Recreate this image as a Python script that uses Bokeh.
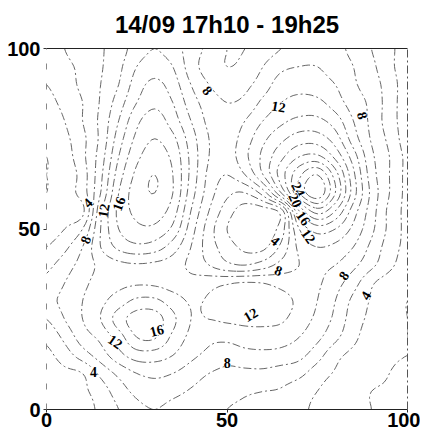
import numpy as np
from bokeh.plotting import figure
from bokeh.models import Range1d, FixedTicker, LinearAxis
from bokeh.core.properties import value
from bokeh.embed import file_html
from bokeh.resources import INLINE

# ---- data: gridded field (x = 0..100 step 5, rows listed from y=100 down to y=0)
grid_x = list(range(0, 101, 5))
grid_y_top_down = list(range(100, -1, -5))
z_rows = [
    [5, 6, 7, 7.8, 9, 11, 12, 11, 9, 7.5, 6, 6, 7, 8, 9, 9, 8.5, 7.5, 6, 4.5, 3],            # y=100
    [4.5, 5.5, 6.5, 7.8, 9.5, 12, 13, 12, 9, 7, 6, 6.5, 8, 9.5, 10, 10, 9, 8, 6.5, 4.5, 3],   # y=95
    [4, 5, 6.5, 8, 10, 13, 14.5, 13, 10, 8, 7, 7.5, 9, 11, 11.5, 11, 10, 8.3, 7, 5, 3],       # y=90
    [3.5, 4.5, 6, 8.2, 11, 14, 15.5, 14, 11, 9, 8, 8.5, 10.5, 12, 12.5, 12.5, 11, 9, 7.5, 5, 3],  # y=85
    [3, 4, 6, 8.5, 12, 15.5, 17, 15, 12, 9.5, 8.5, 10, 12, 13.5, 14.5, 14.5, 13, 10, 7.5, 5, 3],  # y=80
    [2.5, 3.5, 5.5, 8.5, 13, 16.5, 18, 16.5, 13, 10, 9, 11, 13.5, 15.5, 17, 17, 15, 11, 7.8, 5.5, 3],  # y=75
    [2, 3, 5.5, 9, 14, 17.5, 19, 17.5, 13.5, 10, 9, 11.5, 14.5, 17.5, 20, 20.5, 17.5, 13, 8.5, 6, 3.5],  # y=70
    [2, 2.5, 5, 9.5, 15, 18.5, 20, 18, 13.5, 9.5, 8, 10, 14, 19, 23.5, 26, 21, 14.5, 9, 6, 3.5],  # y=65
    [2, 3, 5, 10, 16, 19, 20, 18, 13, 9, 6.5, 6, 9, 16, 24, 27.5, 22, 15, 9.5, 6, 3.5],  # y=60
    [2.5, 3, 3.5, 11.5, 16.5, 18.5, 19, 17, 12, 8, 5, 3, 3, 5, 16, 21, 18, 13, 9, 5.5, 3.5],  # y=55
    [3, 4, 6, 12, 16, 17.5, 17.5, 15.5, 11, 7, 4, 2.5, 2.5, 5, 12, 15, 14, 11.5, 8.5, 5.5, 3.5],  # y=50
    [4, 5.5, 8, 12, 14.5, 15.5, 15, 13, 10, 7, 5, 3.5, 3.5, 6.5, 10.5, 12, 11.5, 10, 7.5, 5, 3.5],  # y=45
    [5.5, 7, 8.8, 10.5, 11.5, 11.8, 11.6, 11, 9.5, 8, 6.5, 6, 7, 8.7, 10, 10.5, 10, 8.5, 6.5, 4.5, 3],  # y=40
    [6.5, 8, 9.5, 10.8, 11.5, 11.8, 11.7, 11.2, 10.8, 11.3, 11.8, 12.2, 12, 11.3, 10.8, 10.3, 8.8, 6.8, 4.3, 3, 2.3],  # y=35
    [7.5, 8.5, 10, 11.5, 13, 14.5, 14.5, 13, 11.8, 12.2, 12.8, 13.3, 13.3, 12.8, 11.5, 10, 8, 5.5, 3.8, 2.5, 2],  # y=30
    [6, 8, 10, 12, 15, 17, 17, 14.5, 12, 12, 12.3, 12.5, 12.6, 12.3, 11, 9.5, 7.5, 5, 3.5, 2.5, 2],  # y=25
    [4.5, 6.5, 9, 10.5, 13, 16, 16.2, 13.5, 11.5, 10.5, 10.5, 11, 11, 10.8, 10, 8.5, 6.5, 4.5, 3, 2.5, 2],  # y=20
    [3.5, 5, 7, 9, 11.3, 13, 13, 12, 10.5, 9.5, 8.8, 9.3, 9.5, 9.3, 8.6, 6.8, 4.6, 3.5, 2.8, 2.3, 2],  # y=15
    [3, 3.5, 4, 6.5, 8.5, 10, 10.5, 10, 9, 8, 7.5, 7.5, 7.5, 7, 6.5, 5, 3.8, 3, 2.5, 2, 1.5],  # y=10
    [2.5, 3, 3.6, 5, 7, 8.5, 9, 8.5, 7.8, 7, 6.5, 6.2, 6, 5.8, 5, 4, 3, 2.5, 2, 1.8, 1.5],  # y=5
    [2, 2.5, 3, 4.5, 6, 7.5, 8, 7.5, 7, 6.5, 6, 5.8, 5.5, 5, 4.5, 3.5, 2.8, 2.2, 2, 1.5, 1],  # y=0
]
contour_levels = [2, 4, 6, 8, 10, 12, 14, 16, 18, 20, 22, 24, 26]

# contour labels as printed on the map
label_x = [44.6, 64.3, 87.5, 11.4, 15.8, 20.0, 10.8, 69.8, 69.0, 71.2, 72.6, 63.4, 64.3, 82.3, 88.4, 56.5, 30.5, 19.1, 13.0, 50.1]
label_y = [88.4, 83.9, 81.4, 57.3, 55.1, 57.0, 47.0, 61.0, 58.0, 53.0, 48.0, 46.8, 38.5, 37.1, 31.6, 26.3, 21.9, 18.8, 10.5, 13.0]
label_text = ["8", "12", "8", "4", "12", "16", "8", "24", "20", "16", "12", "4", "8", "8", "4", "12", "16", "12", "4", "8"]
label_angle = [-50, -10, -75, 45, 80, 70, 70, -65, -65, -55, -55, -40, -20, 55, 60, 30, 15, -35, 0, 0]

x_ticks = [0, 50, 100]
y_ticks = [0, 50, 100]
title_text = "14/09 17h10 - 19h25"

# ---- smooth (Catmull-Rom) resampling of the read grid, for drawing only
def resample(arr, factor, axis):
    n = arr.shape[axis]
    t = np.linspace(0, n - 1, (n - 1) * factor + 1)
    i = np.clip(np.floor(t).astype(int), 0, n - 2)
    s = t - i
    idx = [np.clip(i + k, 0, n - 1) for k in (-1, 0, 1, 2)]
    w = [(-s**3 + 2 * s**2 - s) / 2, (3 * s**3 - 5 * s**2 + 2) / 2,
         (-3 * s**3 + 4 * s**2 + s) / 2, (s**3 - s**2) / 2]
    out = 0
    for k in range(4):
        taken = np.take(arr, idx[k], axis=axis)
        shape = [1] * arr.ndim
        shape[axis] = len(t)
        out = out + taken * w[k].reshape(shape)
    return out

Z = np.flipud(np.array(z_rows, dtype=float))  # rows now y=0..100
F = 6
Zf = resample(resample(Z, F, 0), F, 1)
xs = np.linspace(min(grid_x), max(grid_x), Zf.shape[1])
ys = np.linspace(min(grid_y_top_down), max(grid_y_top_down), Zf.shape[0])

p = figure(width=420, height=437, output_backend="svg", toolbar_location=None, title=None,
           x_range=Range1d(0, 100), y_range=Range1d(0, 100),
           min_border_left=46, min_border_right=13, min_border_top=48, min_border_bottom=28)
p.xgrid.visible = False
p.ygrid.visible = False
p.outline_line_color = None
p.background_fill_color = "white"
p.border_fill_color = "white"

p.contour(xs, ys, Zf, contour_levels, line_color="#4a4a4a", line_width=0.85,
          line_dash="8 3 2 3")

p.text(x=label_x, y=label_y, text=label_text, angle=label_angle, angle_units="deg",
       text_font=value("Liberation Serif"), text_font_style="bold", text_font_size="14px",
       text_color="black", text_align="center", text_baseline="middle",
       background_fill_color="white", background_fill_alpha=1.0, padding=0)

tick_font = "Liberation Sans"
for ax in (p.xaxis[0], p.yaxis[0]):
    ax.major_label_text_font = tick_font
    ax.major_label_text_font_style = "bold"
    ax.major_label_text_font_size = "20px"
    ax.major_label_text_color = "black"
    ax.minor_tick_line_color = None
    ax.major_tick_in = 0
    ax.major_tick_out = 3
    ax.major_tick_line_color = "#333"
p.xaxis[0].ticker = FixedTicker(ticks=x_ticks)
p.yaxis[0].ticker = FixedTicker(ticks=y_ticks)
p.xaxis[0].major_label_standoff = 0
p.yaxis[0].major_label_standoff = 3
p.xaxis[0].axis_line_color = "#222"
p.xaxis[0].axis_line_width = 1.2
p.yaxis[0].axis_line_color = "#888"
p.yaxis[0].axis_line_dash = "6 14"

# top frame edge carries the chart title as its label
top_axis = LinearAxis(ticker=FixedTicker(ticks=[]), major_label_text_font_size="0px",
                      major_tick_line_color=None, minor_tick_line_color=None,
                      axis_line_color="#222", axis_line_width=1.2,
                      axis_label=title_text, axis_label_text_font="Liberation Sans",
                      axis_label_text_font_style="bold", axis_label_text_font_size="24px",
                      axis_label_text_color="black", axis_label_standoff=11)
right_axis = LinearAxis(ticker=FixedTicker(ticks=[]), major_label_text_font_size="0px",
                        major_tick_line_color=None, minor_tick_line_color=None,
                        axis_line_color="#555", axis_line_dash="8 3 2 3")
p.add_layout(top_axis, "above")
p.add_layout(right_axis, "right")

open("out.html", "w").write(file_html(p, INLINE))
